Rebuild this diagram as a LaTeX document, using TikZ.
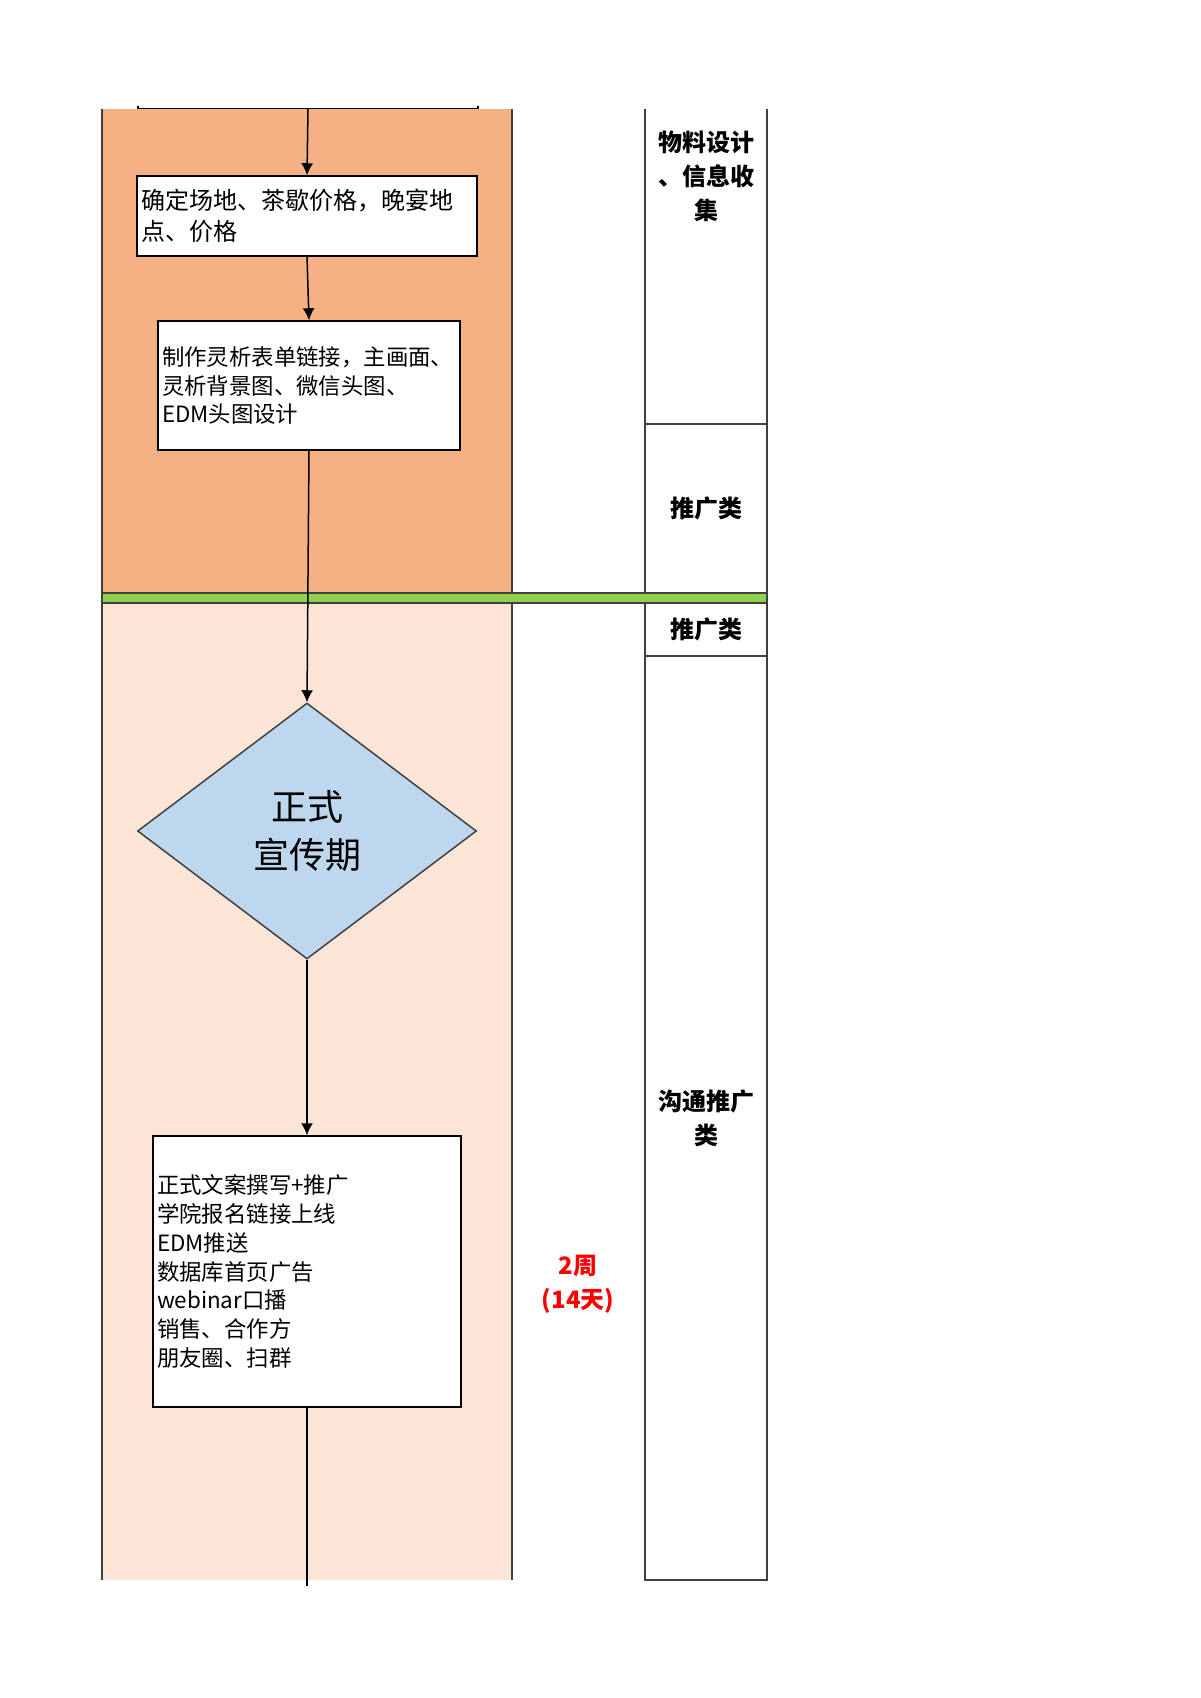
\documentclass[tikz,border=0pt]{standalone}
\usepackage{fontspec}
\setmainfont{Noto Sans CJK SC}
\usetikzlibrary{shapes.geometric,arrows.meta}
\definecolor{laneorange}{HTML}{F4B183}
\definecolor{lanepeach}{HTML}{FBE5D6}
\definecolor{bargreen}{HTML}{92D050}
\definecolor{phaseblue}{HTML}{BDD7EE}
\definecolor{rulegray}{HTML}{404040}
\definecolor{weekred}{HTML}{FF0000}

\begin{document}
\begin{tikzpicture}[
      x=0.5pt, y=-0.5pt,
      every node/.style={inner sep=2pt},
      task/.style={draw=black, line width=0.75pt, fill=white, align=left,
        font=\fontsize{11.2}{14.4}\selectfont},
      phase/.style={diamond, draw=rulegray, line width=0.75pt, fill=phaseblue,
        minimum width=169.5pt, minimum height=128pt, inner sep=0pt, aspect=1.32,
        align=center, font=\fontsize{18}{24}\selectfont},
      lanelbl/.style={align=center, font=\bfseries\fontsize{12}{17}\selectfont},
      weeklbl/.style={align=center, text=weekred, font=\bfseries\fontsize{12}{17}\selectfont},
      rule/.style={draw=rulegray, line width=0.75pt},
      flow/.style={draw=black, line width=0.75pt, -{Latex[length=6pt,width=6pt]}}
    ]
      \useasboundingbox (0,0) rectangle (1200,1698);
      % lanes
      \fill[laneorange] (102,109) rectangle (512,593);
      \fill[lanepeach] (102,603) rectangle (512,1580);
      \draw[rule] (102,109) -- (102,1580);
      \draw[rule] (512,109) -- (512,1580);
      \draw[rule] (645,109) -- (645,1580) -- (767,1580) -- (767,109);
      \draw[rule] (645,424) -- (767,424);
      \draw[rule] (645,656) -- (767,656);
      \draw[rule, fill=bargreen] (102,593) rectangle (767,603);
      % right column
      \node[lanelbl] (matl) at (706,176) {物料设计\\、信息收\\集};
      \node[lanelbl] (promoa) at (706,508) {推广类};
      \node[lanelbl] (promob) at (706,629) {推广类};
      \node[lanelbl] (comms) at (706,1118) {沟通推广\\类};
      \node[weeklbl] (weeks) at (578,1284) {2周\\(14天)};
      % flow
      \begin{scope}
        \clip (0,106) rectangle (1200,1698);
        \node[task, minimum width=170pt, minimum height=30pt, anchor=south] (prev) at (308,109) {};
      \end{scope}
      \node[task, text width=166pt, minimum height=40pt, font=\fontsize{12}{15.5}\selectfont]
        (venue) at (307,216) {确定场地、茶歇价格，晚宴地\\点、价格};
      \node[task, text width=147pt, minimum height=64.5pt]
        (design) at (309,385.5) {制作灵析表单链接，主画面、\\灵析背景图、微信头图、\\EDM头图设计};
      \node[phase] (launch) at (307,831) {正式\\宣传期};
      \node[task, text width=150pt, minimum height=135.5pt]
        (promo) at (307,1271.5) {正式文案撰写+推广\\学院报名链接上线\\EDM推送\\数据库首页广告\\webinar口播\\销售、合作方\\朋友圈、扫群};
      \coordinate (tail) at (307,1586);
      \draw[flow] (prev.south) -- (venue.north);
      \draw[flow] (venue.south) -- (design.north);
      \draw[flow] (design.south) -- (launch.north);
      \draw[flow] (launch.south) -- (promo.north);
      \draw[line width=0.75pt] (promo.south) -- (tail);
    \end{tikzpicture}
\end{document}
